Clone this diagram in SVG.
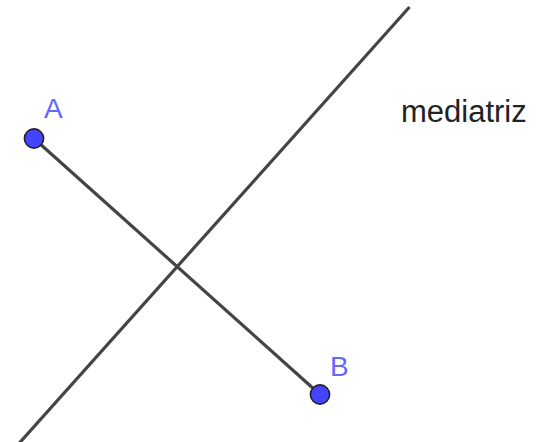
<svg xmlns="http://www.w3.org/2000/svg" width="544" height="442" viewBox="0 0 544 442">
<style>
.ln{stroke:#444;stroke-width:3.2;fill:none;stroke-linecap:butt}
.pt{fill:#4444ff;stroke:#222;stroke-width:1.6}
.lbl{font-family:"Liberation Sans",Arial,sans-serif;fill:#6666ff;font-size:28px}
.txt{font-family:"Liberation Sans",Arial,sans-serif;fill:#222;font-size:31px}
</style>
<rect width="544" height="442" fill="#fff"/>
<g id="connectors">
<line id="mediatriz-line" class="ln" x1="409.5" y1="7" x2="18.5" y2="444"/>
<line id="segment-AB" class="ln" x1="34" y1="138.5" x2="320" y2="394.5"/>
</g>
<g id="A">
<circle class="pt" cx="34" cy="138.5" r="9.6"/>
<text class="lbl" x="44" y="118">A</text>
</g>
<g id="B">
<circle class="pt" cx="320" cy="394.5" r="9.6"/>
<text class="lbl" x="330" y="375.5">B</text>
</g>
<g id="label-mediatriz">
<text class="txt" x="401" y="121.5">mediatriz</text>
</g>
</svg>
